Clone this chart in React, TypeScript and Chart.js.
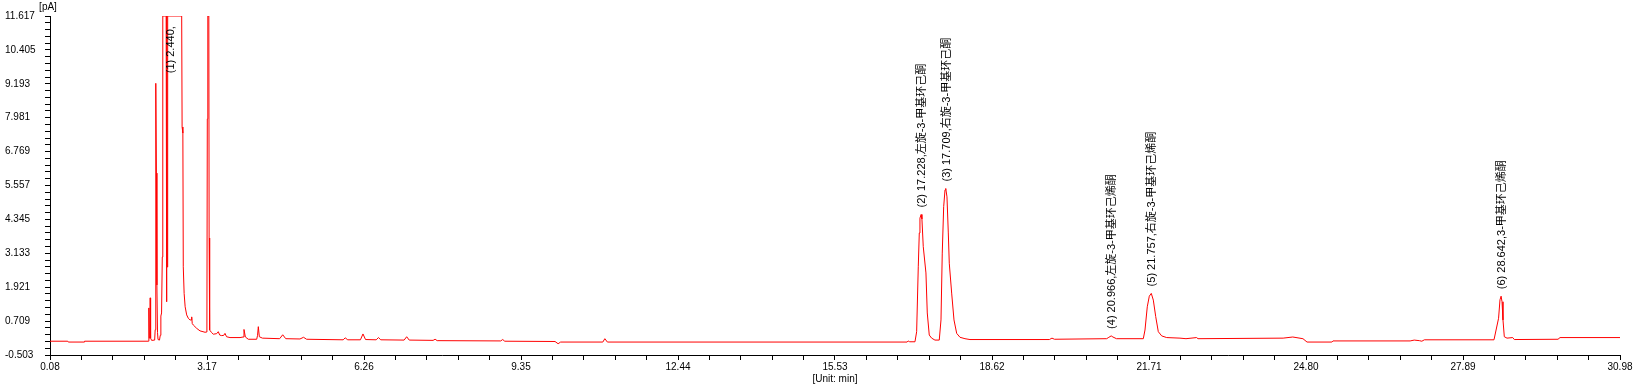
import React, { useEffect, useRef } from "react";
import { Chart, registerables } from "chart.js";

Chart.register(...registerables);

// Retention time (min), signal (pA)
const tracePoints: [number, number][] = [
  [0.08, -0.01], [0.43, -0.01], [0.44, -0.04], [0.75, -0.04], [0.76, -0.01],
  [2.015, -0.01], [2.024, 0.6], [2.028, 1.18], [2.034, 0.1], [2.046, 0.2], [2.052, 1.54],
  [2.06, 0.1], [2.08, 0.02], [2.14, 0.03], [2.15, 0.4], [2.158, 2.78], [2.166, 9.21],
  [2.174, 6.0], [2.184, 2.0], [2.196, 0.3], [2.206, 0.05], [2.235, 0.03], [2.25, 0.2],
  [2.262, 0.89], [2.276, 1.0], [2.29, 3.0], [2.3, 11.617], [2.366, 11.617], [2.373, 1.4],
  [2.38, 11.617], [2.388, 2.64], [2.396, 11.617], [2.672, 11.617], [2.68, 7.65],
  [2.695, 7.43], [2.703, 2.65], [2.72, 1.7], [2.74, 1.22], [2.77, 0.93], [2.802, 0.81],
  [2.835, 0.75], [2.86, 0.75], [2.869, 0.86], [2.88, 0.62], [2.9, 0.57], [2.967, 0.45],
  [3.032, 0.36], [3.131, 0.31], [3.168, 0.32], [3.176, 7.94], [3.186, 11.617],
  [3.206, 11.617], [3.212, 3.68], [3.222, 0.39], [3.26, 0.3], [3.294, 0.24], [3.36, 0.26],
  [3.392, 0.33], [3.42, 0.21], [3.459, 0.19], [3.5, 0.2], [3.524, 0.27], [3.555, 0.15],
  [3.623, 0.12], [3.82, 0.12], [3.88, 0.14], [3.898, 0.41], [3.925, 0.14], [3.983, 0.06],
  [4.148, 0.06], [4.165, 0.2], [4.18, 0.51], [4.2, 0.15], [4.26, 0.1], [4.6, 0.08],
  [4.66, 0.22], [4.72, 0.08], [5.0, 0.07], [5.07, 0.13], [5.13, 0.06], [5.85, 0.04],
  [5.89, 0.11], [5.94, 0.04], [6.19, 0.04], [6.24, 0.25], [6.29, 0.05], [6.5, 0.04],
  [6.545, 0.12], [6.59, 0.04], [7.05, 0.03], [7.1, 0.15], [7.15, 0.03], [7.62, 0.02],
  [7.66, 0.06], [7.7, 0.01], [8.95, 0.0], [8.99, 0.05], [9.03, -0.01], [10.02, -0.02],
  [10.08, -0.1], [10.13, -0.04], [10.96, -0.04], [11.0, 0.08], [11.05, -0.04],
  [16.95, -0.04], [16.97, 0.0], [17.0, -0.03], [17.104, -0.03], [17.137, 0.33],
  [17.169, 2.65], [17.189, 3.86], [17.202, 4.39], [17.225, 4.52], [17.241, 4.36],
  [17.267, 3.37], [17.32, 2.43], [17.346, 1.0], [17.385, 0.21], [17.432, 0.1],
  [17.497, 0.03], [17.582, 0.03], [17.616, 0.75], [17.641, 3.14], [17.669, 4.8],
  [17.695, 5.4], [17.71, 5.45], [17.734, 5.15], [17.76, 3.86], [17.779, 2.78],
  [17.826, 1.71], [17.872, 0.75], [17.925, 0.27], [17.99, 0.13], [18.088, 0.08],
  [18.187, 0.05], [19.75, 0.05], [19.8, 0.1], [19.85, 0.06], [20.877, 0.08],
  [20.92, 0.13], [20.966, 0.18], [21.0, 0.14], [21.07, 0.08], [21.598, 0.08],
  [21.631, 0.39], [21.676, 1.22], [21.716, 1.6], [21.755, 1.7], [21.795, 1.46],
  [21.842, 0.87], [21.893, 0.33], [21.96, 0.18], [22.058, 0.12], [22.32, 0.1],
  [22.438, 0.08], [22.647, 0.12], [22.674, 0.08], [24.35, 0.1], [24.54, 0.14],
  [24.74, 0.08], [24.82, -0.04], [25.31, -0.04], [25.33, 0.0], [26.85, 0.0],
  [26.93, 0.03], [27.03, 0.01], [27.08, -0.01], [27.13, 0.04], [28.5, 0.04],
  [28.59, 0.81], [28.618, 1.47], [28.64, 1.6], [28.658, 1.4], [28.677, 0.75],
  [28.703, 0.15], [28.756, 0.1], [28.868, 0.12], [28.9, 0.05], [29.76, 0.06],
  [29.8, 0.12], [30.98, 0.12],
];

const peakTimes = [2.44, 17.228, 17.709, 20.966, 21.757, 28.642];
const peakLabelHeights = [9.32, 4.52, 5.45, 0.18, 1.7, 1.6];
const peakLabels = [
  "(1) 2.440,",
  "(2) 17.228,左旋-3-甲基环己酮",
  "(3) 17.709,右旋-3-甲基环己酮",
  "(4) 20.966,左旋-3-甲基环己烯酮",
  "(5) 21.757,右旋-3-甲基环己烯酮",
  "(6) 28.642,3-甲基环己烯酮",
];

const xTickLabels = ["0.08", "3.17", "6.26", "9.35", "12.44", "15.53", "18.62", "21.71", "24.80", "27.89", "30.98"];
const yTickLabels = ["-0.503", "0.709", "1.921", "3.133", "4.345", "5.557", "6.769", "7.981", "9.193", "10.405", "11.617"];
const minorPerMajor = 5;

function tickValues(labels: string[]) {
  const majors = labels.map(Number);
  const vals: number[] = [];
  for (let i = 0; i < majors.length - 1; i++) {
    for (let k = 0; k < minorPerMajor; k++) {
      vals.push(majors[i] + ((majors[i + 1] - majors[i]) * k) / minorPerMajor);
    }
  }
  vals.push(majors[majors.length - 1]);
  return vals;
}

const FONT = '"Liberation Sans", Arial, sans-serif';

export default function App() {
  const ref = useRef<HTMLCanvasElement | null>(null);
  useEffect(() => {
    if (!ref.current) return;
    const xTicks = tickValues(xTickLabels);
    const yTicks = tickValues(yTickLabels);
    const labelPlugin = {
      id: "peakLabels",
      afterDatasetsDraw(chart: any) {
        const { ctx, scales, chartArea } = chart;
        ctx.save();
        ctx.fillStyle = "#000";
        ctx.font = `11px "Liberation Sans", "Noto Sans CJK SC", sans-serif`;
        ctx.textAlign = "left";
        ctx.textBaseline = "middle";
        peakTimes.forEach((t, i) => {
          const x = scales.x.getPixelForValue(t) + 1;
          const y = scales.y.getPixelForValue(peakLabelHeights[i]) - 7;
          ctx.save();
          ctx.translate(x, y);
          ctx.rotate(-Math.PI / 2);
          ctx.fillText(peakLabels[i], 0, 0);
          ctx.restore();
        });
        ctx.font = `10px ${FONT}`;
        ctx.textAlign = "center";
        ctx.fillText("[pA]", chartArea.left - 2, chartArea.top - 8.5);
        ctx.restore();
      },
    };
    const chart = new Chart(ref.current, {
      type: "line",
      data: {
        datasets: [
          {
            data: tracePoints.map(([x, y]) => ({ x, y })),
            borderColor: "#ff0000",
            borderWidth: 1,
            pointRadius: 0,
            tension: 0,
            fill: false,
          },
        ],
      },
      options: {
        animation: false,
        responsive: false,
        devicePixelRatio: 1,
        layout: { padding: { left: 5, top: 16, right: 16, bottom: 0 } },
        plugins: { legend: { display: false }, tooltip: { enabled: false } },
        scales: {
          x: {
            type: "linear",
            min: 0.08,
            max: 30.98,
            afterBuildTicks: (s: any) => {
              s.ticks = xTicks.map((v) => ({ value: v }));
            },
            afterFit: (s: any) => {
              s.height = 35;
            },
            grid: { drawOnChartArea: false, drawTicks: true, tickLength: 5, tickColor: "#000" },
            border: { display: true, color: "#000", width: 1 },
            ticks: {
              autoSkip: false,
              maxRotation: 0,
              padding: 1,
              color: "#000",
              font: { family: FONT, size: 10 },
              callback: (_v: any, i: number) => (i % minorPerMajor === 0 ? xTickLabels[i / minorPerMajor] : ""),
            },
            title: {
              display: true,
              text: "[Unit: min]",
              color: "#000",
              font: { family: FONT, size: 10 },
              padding: { top: 0, bottom: 5 },
            },
          },
          y: {
            type: "linear",
            min: -0.503,
            max: 11.617,
            afterBuildTicks: (s: any) => {
              s.ticks = yTicks.map((v) => ({ value: v }));
            },
            afterFit: (s: any) => {
              s.width = 45;
            },
            grid: { drawOnChartArea: false, drawTicks: true, tickLength: 5, tickColor: "#000" },
            border: { display: true, color: "#000", width: 1 },
            ticks: {
              autoSkip: false,
              crossAlign: "far",
              color: "#000",
              font: { family: FONT, size: 10 },
              callback: (_v: any, i: number) => (i % minorPerMajor === 0 ? yTickLabels[i / minorPerMajor] : ""),
            },
          },
        },
      },
      plugins: [labelPlugin],
    } as any);
    return () => chart.destroy();
  }, []);
  return (
    <div style={{ position: "absolute", left: 0, top: 0, width: 1636, height: 390, background: "#fff" }}>
      <canvas ref={ref} width={1636} height={390} style={{ display: "block" }} />
    </div>
  );
}
